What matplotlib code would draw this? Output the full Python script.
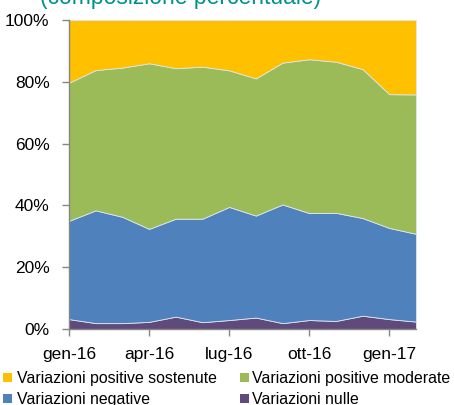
import matplotlib
matplotlib.use("Agg")
import matplotlib.pyplot as plt
import numpy as np
from matplotlib.patches import Rectangle

plt.rcParams['font.family'] = ['Liberation Sans', 'DejaVu Sans']

months = ["gen-16", "feb-16", "mar-16", "apr-16", "mag-16", "giu-16", "lug-16",
          "ago-16", "set-16", "ott-16", "nov-16", "dic-16", "gen-17", "feb-17"]
tick_labels = ["gen-16", "apr-16", "lug-16", "ott-16", "gen-17"]
tick_idx = [0, 3, 6, 9, 12]

# cumulative tops
cum_nulle = [3.2, 1.9, 1.9, 2.3, 4.0, 2.2, 2.9, 3.7, 1.9, 2.9, 2.6, 4.3, 3.2, 2.4]
cum_neg = [35.0, 38.4, 36.3, 32.4, 35.7, 35.7, 39.5, 36.7, 40.3, 37.5, 37.6, 35.9, 32.7, 30.8]
cum_mod = [79.7, 83.8, 84.6, 86.0, 84.4, 84.9, 83.7, 81.1, 86.2, 87.3, 86.5, 84.1, 76.0, 75.9]

nulle = np.array(cum_nulle)
negative = np.array(cum_neg) - nulle
moderate = np.array(cum_mod) - np.array(cum_neg)
sostenute = 100 - np.array(cum_mod)

colors = {"sost": "#FFC000", "mod": "#9BBB59", "neg": "#4F81BD", "null": "#604A7B"}

W, H = 454, 405
fig = plt.figure(figsize=(W/100, H/100), dpi=100)
ax = fig.add_axes([69/W, 1-329/H, (416-69)/W, (329-20)/H])

x = np.arange(len(months))
ax.stackplot(x, nulle, negative, moderate, sostenute,
             colors=[colors["null"], colors["neg"], colors["mod"], colors["sost"]],
             edgecolor="#DDE6F0", linewidth=0.6)

ax.set_xlim(0, len(months) - 1)
ax.set_ylim(0, 100)
ax.set_yticks([0, 20, 40, 60, 80, 100])
ax.set_yticklabels([f"{v}%" for v in [0, 20, 40, 60, 80, 100]], fontsize=12.5)
ax.set_xticks(tick_idx)
ax.set_xticklabels(tick_labels, fontsize=12.5)
for s in ["top", "right"]:
    ax.spines[s].set_visible(False)
for s in ["left", "bottom"]:
    ax.spines[s].set_color("#868686")
    ax.spines[s].set_linewidth(1.0)
ax.tick_params(axis="both", colors="#868686", labelcolor="black", length=5, width=1)
ax.tick_params(axis="x", pad=8)
ax.tick_params(axis="y", pad=9)

fig.text(40/W, 1 - 9/H, "(composizione percentuale)", color="#00918F",
         fontsize=16.5, ha="left", va="bottom")

# legend drawn manually: two columns, two rows
labels = ["Variazioni positive sostenute", "Variazioni positive moderate",
          "Variazioni negative", "Variazioni nulle"]
lcolors = [colors["sost"], colors["mod"], colors["neg"], colors["null"]]
col_marker_x = [3, 240]
col_text_x = [17, 252]
row_y = [377, 398]

# fit legend font so the first label spans ~200 px
renderer = fig.canvas.get_renderer()
probe = fig.text(0, 0, labels[0], fontsize=12)
wpx = probe.get_window_extent(renderer).width
probe.remove()
lfs = 12 * 200 / wpx

for i, (lab, c) in enumerate(zip(labels, lcolors)):
    col, row = i % 2, i // 2
    yc = row_y[row]
    fig.patches.append(Rectangle((col_marker_x[col]/W, 1 - (yc + 4.5)/H), 9/W, 9/H,
                                 transform=fig.transFigure, facecolor=c, edgecolor="none"))
    fig.text(col_text_x[col]/W, 1 - yc/H, lab, fontsize=lfs, ha="left", va="center_baseline")

fig.savefig("out.png", dpi=100)
